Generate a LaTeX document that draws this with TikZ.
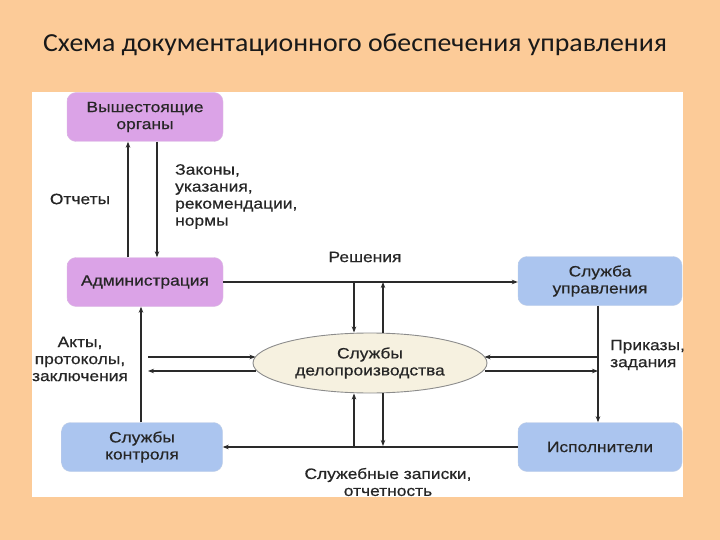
\documentclass[tikz,border=0pt]{standalone}
\usepackage{fontspec}
\setmainfont{Liberation Sans}[FakeStretch=1.16, FakeBold=0.5]
\newfontfamily\titlefont{Carlito}[FakeStretch=1.07]
\usetikzlibrary{arrows.meta,shapes.geometric,calc}
\definecolor{peach}{HTML}{FCCB98}
\definecolor{purpEdge}{HTML}{DBA3E7}
\definecolor{purpMid}{HTML}{F3D6F7}
\definecolor{blueEdge}{HTML}{ABC5EF}
\definecolor{blueMid}{HTML}{D4E3F9}
\definecolor{ellFill}{HTML}{F6F1E0}
\definecolor{lineCol}{HTML}{2A2A2A}
\tikzset{
  txt/.style={font=\fontsize{15}{17}\selectfont, text=black!85},
  box/.style={txt, rounded corners=9pt, minimum height=49pt, align=center, inner sep=3pt},
  purplebox/.style={box, left color=purpEdge, middle color=purpMid, right color=purpEdge, draw=purpEdge!90!black!60},
  bluebox/.style={box, left color=blueEdge, middle color=blueMid, right color=blueEdge, draw=blueEdge!90!black!60},
  arr/.style={draw=lineCol, line width=1.1pt, -{Stealth[length=6pt,width=4.5pt]}},
  lbl/.style={txt, inner sep=0pt}
}
\begin{document}
\begin{tikzpicture}[x=1pt,y=-1pt]
\path[use as bounding box, fill=peach] (0,0) rectangle (720,540);
\fill[white] (32,92) rectangle (683,497);
\node[font=\titlefont\fontsize{26}{30}\selectfont, text=black!90] (title) at (355,45) {Схема документационного обеспечения управления};

\node[purplebox, minimum width=156pt] (vo) at (145,117) {Вышестоящие\\органы};
\node[purplebox, minimum width=156pt] (adm) at (145,282) {Администрация};
\node[bluebox, minimum width=164pt] (su) at (600,281) {Служба\\управления};
\node[ellipse, draw=black!45, fill=ellFill, line width=0.9pt, minimum width=234pt, minimum height=60pt, align=center, txt, inner sep=0pt] (sd) at (370,363) {Службы\\делопроизводства};
\node[bluebox, minimum width=161pt] (sk) at (142,447) {Службы\\контроля};
\node[bluebox, minimum width=164pt] (isp) at (600,447) {Исполнители};

% coordinates for free ends
\coordinate (lx) at (141,0);
\coordinate (r1) at (354,282);
\coordinate (r2) at (383,282);
\coordinate (b1) at (354,446);
\coordinate (b2) at (383,446);
\coordinate (p1) at (598,357);
\coordinate (p2) at (598,371);
\coordinate (a1) at (148,357);
\coordinate (a2) at (148,371);
\coordinate (eR1) at ($(sd.center)+(114.5,-6)$);
\coordinate (eR2) at ($(sd.center)+(114.5,8)$);
\coordinate (eL1) at ($(sd.center)+(-114.5,-6)$);
\coordinate (eL2) at ($(sd.center)+(-114.5,8)$);

% top pair
\draw[arr] ([xshift=-17pt]adm.north) -- ([xshift=-17pt]vo.south);
\draw[arr] ([xshift=12pt]vo.south) -- ([xshift=12pt]adm.north);
% Решения
\draw[arr] (adm.east) -- (adm.east -| su.west);
\draw[arr] (r1) -- (r1 |- sd.north);
\draw[arr] (r2 |- sd.north) -- (r2);
% right side
\draw[arr] ([xshift=-2pt]su.south) -- ([xshift=-2pt]isp.north);
\draw[arr] (p1) -- (eR1);
\draw[arr] (eR2) -- (p2);
% left side
\draw[arr] (sk.north -| lx) -- (adm.south -| lx);
\draw[arr] (a1) -- (eL1);
\draw[arr] (eL2) -- (a2);
% bottom
\draw[arr] (isp.west) -- (isp.west -| sk.east);
\draw[arr] (b1) -- (b1 |- sd.south);
\draw[arr] (b2 |- sd.south) -- (b2);

% labels
\node[lbl] (l1) at (80,199) {Отчеты};
\node[lbl, anchor=north west, align=left] (l2) at (175,164) {Законы,\\указания,\\рекомендации,\\нормы};
\node[lbl] (l3) at (365,257) {Решения};
\node[lbl, anchor=west, align=left] (l4) at (610,355) {Приказы,\\задания};
\node[lbl, align=center] (l5) at (80,359) {Акты,\\протоколы,\\заключения};
\node[lbl, align=center] (l6) at (388,482) {Служебные записки,\\отчетность};
\end{tikzpicture}
\end{document}
